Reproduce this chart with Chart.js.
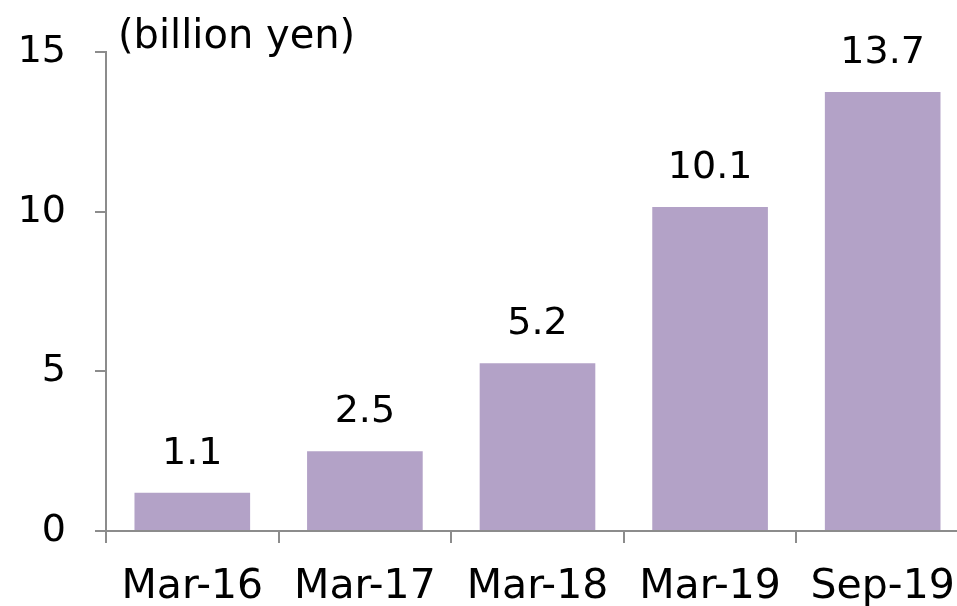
<!DOCTYPE html>
<html>
<head>
<meta charset="utf-8">
<script src="https://cdn.jsdelivr.net/npm/chart.js@4/dist/chart.umd.min.js"></script>
<style>
html,body{margin:0;padding:0;overflow:hidden;background:#fff;}
#wrap{width:975px;height:606px;}
</style>
</head>
<body>
<div id="wrap"><canvas id="c" width="975" height="606"></canvas></div>
<script>
const categories = ["Mar-16", "Mar-17", "Mar-18", "Mar-19", "Sep-19"];
const values = [1.2, 2.5, 5.25, 10.15, 13.75];
const valueLabels = ["1.1", "2.5", "5.2", "10.1", "13.7"];
const yTicks = [0, 5, 10, 15];
const unitLabel = "(billion yen)";

const FONT = "DejaVu Sans";
const FS = 38;

const labelPlugin = {
  id: 'labels',
  afterDatasetsDraw(chart) {
    const ctx = chart.ctx;
    const meta = chart.getDatasetMeta(0);
    ctx.save();
    ctx.font = FS + "px '" + FONT + "'";
    ctx.fillStyle = "#000";
    ctx.textAlign = "center";
    ctx.textBaseline = "alphabetic";
    meta.data.forEach((bar, i) => {
      ctx.fillText(valueLabels[i], bar.x, bar.y - 29);
    });
    ctx.font = "40px '" + FONT + "'";
    ctx.textAlign = "left";
    ctx.fillText(unitLabel, chart.chartArea.left + 12, chart.chartArea.top - 4);
    ctx.restore();
  }
};

new Chart(document.getElementById('c'), {
  type: 'bar',
  data: {
    labels: categories,
    datasets: [{
      data: values,
      backgroundColor: '#b3a2c7',
      borderWidth: 0,
      categoryPercentage: 1.0,
      barPercentage: 0.67
    }]
  },
  options: {
    responsive: false,
    animation: false,
    layout: { padding: { top: 52, right: 2, left: 0, bottom: 0 } },
    plugins: { legend: { display: false }, tooltip: { enabled: false } },
    scales: {
      x: {
        grid: { display: true, drawOnChartArea: false, color: '#8c8c8c', lineWidth: 2, tickLength: 12, offset: true },
        border: { display: true, color: '#8c8c8c', width: 2 },
        ticks: { color: '#000', font: { family: FONT, size: 41 }, padding: 20, maxRotation: 0 },
        afterFit(s) { s.height = 75; }
      },
      y: {
        min: 0, max: 15,
        afterBuildTicks(s) { s.ticks = yTicks.map(v => ({ value: v })); },
        grid: { display: true, drawOnChartArea: false, color: '#8c8c8c', lineWidth: 2, tickLength: 11 },
        border: { display: true, color: '#8c8c8c', width: 2 },
        ticks: { color: '#000', font: { family: FONT, size: FS }, padding: 29 },
        afterFit(s) { s.width = 106; }
      }
    }
  },
  plugins: [labelPlugin]
});
</script>
</body>
</html>
